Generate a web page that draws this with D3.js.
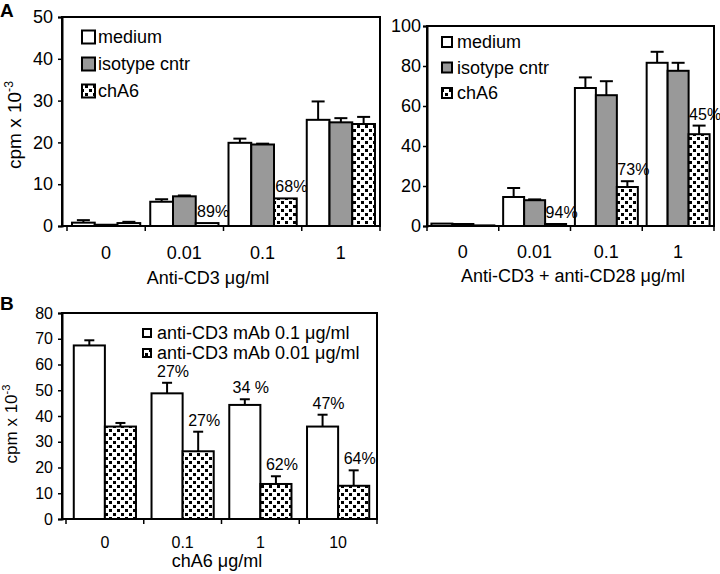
<!DOCTYPE html>
<html>
<head>
<meta charset="utf-8">
<script src="https://cdn.jsdelivr.net/npm/d3@7"></script>
<style>
  body { margin: 0; background: #fff; }
  text { font-family: 'Liberation Sans', Arial, sans-serif; fill: #000; }
</style>
</head>
<body>
<svg id="chart" width="720" height="574"></svg>
<script>
// panel A doses and series
const doseA = ['0', '0.01', '0.1', '1'];
const seriesA = ['medium', 'isotype cntr', 'chA6'];

// A left: anti-CD3 only
const leftMedium = [0.8, 5.8, 19.9, 25.4];
const leftMediumSd = [0.6, 0.6, 1.0, 4.4];
const leftIso = [0.3, 7.1, 19.5, 24.8];
const leftIsoSd = [0, 0.2, 0.2, 1.0];
const leftChA6 = [0.7, 0.7, 6.6, 24.4];
const leftChA6Sd = [0.3, 0, 0, 1.7];
const leftPct = ['', '89%', '68%', ''];

// A right: anti-CD3 + anti-CD28
const rightMedium = [1.2, 14.5, 69.0, 81.6];
const rightMediumSd = [0, 4.5, 5.3, 5.5];
const rightIso = [1.0, 12.9, 65.4, 77.6];
const rightIsoSd = [0, 0.4, 7.0, 4.0];
const rightChA6 = [0.3, 1.0, 19.5, 45.9];
const rightChA6Sd = [0, 0, 2.9, 4.3];
const rightPct = ['', '94%', '73%', '45%'];

// panel B
const doseB = ['0', '0.1', '1', '10'];
const seriesB = ['anti-CD3 mAb 0.1 \u03bcg/ml', 'anti-CD3 mAb 0.01 \u03bcg/ml'];
const bHigh = [67.4, 48.8, 44.3, 35.9];
const bHighSd = [2.0, 4.1, 2.2, 4.6];
const bHighPct = ['', '27%', '34 %', '47%'];
const bLow = [35.9, 26.3, 13.6, 12.9];
const bLowSd = [1.4, 7.6, 3.0, 6.0];
const bLowPct = ['', '27%', '62%', '64%'];

const svg = d3.select('#chart');

// dotted fill used for chA6 bars
const defs = svg.append('defs');
const pat = defs.append('pattern')
  .attr('id', 'dots')
  .attr('patternUnits', 'userSpaceOnUse')
  .attr('width', 8)
  .attr('height', 8);
pat.append('rect').attr('width', 8).attr('height', 8).attr('fill', '#fff');
pat.append('rect').attr('x', 1).attr('y', 1).attr('width', 3).attr('height', 3).attr('fill', '#000');
pat.append('rect').attr('x', 5).attr('y', 5).attr('width', 3).attr('height', 3).attr('fill', '#000');

const fills = ['#fff', '#999', 'url(#dots)'];

function drawPanel(opt) {
  const g = svg.append('g');
  const y = d3.scaleLinear().domain([0, opt.yMax]).range([opt.bottom, opt.top]);
  const x0 = d3.scaleBand().domain(opt.doses).range([opt.bandLeft, opt.right]);
  const x1 = d3.scaleBand()
    .domain(opt.series.map((s, i) => i))
    .range([0, x0.bandwidth()])
    .paddingOuter(opt.pad);

  // frame
  g.append('rect')
    .attr('x', opt.left).attr('y', opt.top)
    .attr('width', opt.right - opt.left).attr('height', opt.bottom - opt.top)
    .attr('fill', 'none').attr('stroke', '#000').attr('stroke-width', 2);

  // y axis
  const yAxis = d3.axisLeft(y).tickValues(d3.range(0, opt.yMax + 1, opt.yStep))
    .tickSize(4).tickPadding(opt.yPad);
  const ya = g.append('g').attr('transform', `translate(${opt.left},0)`).call(yAxis);
  ya.select('.domain').attr('stroke-width', 2);
  ya.selectAll('line').attr('stroke-width', 1.5);
  ya.selectAll('text').style('font-size', opt.tickFont + 'px')
    .style('font-family', "'Liberation Sans', Arial, sans-serif");

  // x ticks at band boundaries
  const bounds = opt.doses.map(d => x0(d)).concat([opt.right]);
  g.selectAll('.xt').data(bounds).join('line')
    .attr('x1', d => d).attr('x2', d => d)
    .attr('y1', opt.bottom).attr('y2', opt.bottom + 5)
    .attr('stroke', '#000').attr('stroke-width', 1.5);
  g.selectAll('.xl').data(opt.doses).join('text')
    .attr('x', d => x0(d) + x0.bandwidth() / 2)
    .attr('y', opt.xLabelY)
    .attr('text-anchor', 'middle')
    .style('font-size', opt.tickFont + 'px')
    .text(d => d);

  // bars + error bars + percent labels
  opt.values.forEach((vals, si) => {
    const bw = x1.bandwidth();
    const cx = i => x0(opt.doses[i]) + x1(si) + bw / 2;
    const grp = g.append('g');
    grp.selectAll('rect').data(vals).join('rect')
      .attr('x', (d, i) => x0(opt.doses[i]) + x1(si))
      .attr('y', d => y(d))
      .attr('width', bw)
      .attr('height', d => opt.bottom - y(d))
      .attr('fill', opt.fills[si])
      .attr('stroke', '#000').attr('stroke-width', 2);
    const sd = opt.sds[si];
    vals.forEach((v, i) => {
      if (sd[i] <= 0) return;
      grp.append('line')
        .attr('x1', cx(i)).attr('x2', cx(i))
        .attr('y1', y(v)).attr('y2', y(v + sd[i]))
        .attr('stroke', '#000').attr('stroke-width', 2);
      grp.append('line')
        .attr('x1', cx(i) - opt.cap / 2).attr('x2', cx(i) + opt.cap / 2)
        .attr('y1', y(v + sd[i])).attr('y2', y(v + sd[i]))
        .attr('stroke', '#000').attr('stroke-width', 2);
    });
    const pct = opt.pcts[si];
    if (pct) {
      vals.forEach((v, i) => {
        if (!pct[i]) return;
        grp.append('text')
          .attr('x', cx(i) + 6)
          .attr('y', y(v + sd[i]) - 6)
          .attr('text-anchor', 'middle')
          .style('font-size', opt.pctFont + 'px')
          .text(pct[i]);
      });
    }
  });

  // legend
  opt.series.forEach((s, i) => {
    const ly = opt.legY + i * opt.legGap;
    g.append('rect')
      .attr('x', opt.legX).attr('y', ly - opt.legBox / 2)
      .attr('width', opt.legBox).attr('height', opt.legBox)
      .attr('fill', opt.fills[i]).attr('stroke', '#000').attr('stroke-width', 2);
    g.append('text')
      .attr('x', opt.legX + opt.legBox + opt.legTextGap).attr('y', ly + opt.legFont * 0.36)
      .style('font-size', opt.legFont + 'px')
      .text(s);
  });

  // x title
  g.append('text')
    .attr('x', opt.titleX).attr('y', opt.titleY)
    .attr('text-anchor', 'middle')
    .style('font-size', opt.titleFont + 'px')
    .text(opt.title);

  // y title
  if (opt.yTitleX) {
    const t = g.append('text')
      .attr('transform', `translate(${opt.yTitleX},${opt.yTitleY}) rotate(-90)`)
      .attr('text-anchor', 'middle')
      .style('font-size', opt.yTitleFont + 'px');
    t.append('tspan').text('cpm x 10');
    t.append('tspan').attr('dy', -opt.yTitleFont * 0.4)
      .style('font-size', (opt.yTitleFont * 0.65) + 'px').text('-3');
  }
}

drawPanel({
  doses: doseA, series: seriesA, fills,
  values: [leftMedium, leftIso, leftChA6],
  sds: [leftMediumSd, leftIsoSd, leftChA6Sd],
  pcts: [null, null, leftPct],
  left: 62, bandLeft: 67, right: 380, top: 17, bottom: 226,
  yMax: 50, yStep: 10, yPad: 5, pad: 0.22, cap: 13,
  tickFont: 18, pctFont: 16, xLabelY: 259,
  legX: 82, legY: 37, legGap: 27, legBox: 13, legTextGap: 3, legFont: 18,
  title: 'Anti-CD3 \u03bcg/ml', titleX: 208, titleY: 284, titleFont: 18,
  yTitleX: 21, yTitleY: 125, yTitleFont: 19
});

drawPanel({
  doses: doseA, series: seriesA, fills,
  values: [rightMedium, rightIso, rightChA6],
  sds: [rightMediumSd, rightIsoSd, rightChA6Sd],
  pcts: [null, null, rightPct],
  left: 427, bandLeft: 427, right: 714, top: 26, bottom: 226,
  yMax: 100, yStep: 20, yPad: 2, pad: 0.21, cap: 13,
  tickFont: 18, pctFont: 16, xLabelY: 258,
  legX: 442, legY: 42, legGap: 25.5, legBox: 10, legTextGap: 5, legFont: 18,
  title: 'Anti-CD3 + anti-CD28 \u03bcg/ml', titleX: 573, titleY: 282, titleFont: 18,
  yTitleX: null
});

drawPanel({
  doses: doseB, series: seriesB, fills: ['#fff', 'url(#dots)'],
  values: [bHigh, bLow],
  sds: [bHighSd, bLowSd],
  pcts: [bHighPct, bLowPct],
  left: 62, bandLeft: 66, right: 377, top: 313, bottom: 519,
  yMax: 80, yStep: 10, yPad: 5, pad: 0.25, cap: 10,
  tickFont: 16, pctFont: 16, xLabelY: 548,
  legX: 143, legY: 333, legGap: 20, legBox: 8, legTextGap: 6, legFont: 18,
  title: 'chA6 \u03bcg/ml', titleX: 217, titleY: 567, titleFont: 18,
  yTitleX: 17, yTitleY: 424, yTitleFont: 17
});

// panel letters
svg.append('text').attr('x', 0).attr('y', 17)
  .style('font-size', '19px').style('font-weight', 'bold').text('A');
svg.append('text').attr('x', 0).attr('y', 310)
  .style('font-size', '19px').style('font-weight', 'bold').text('B');
</script>
</body>
</html>
